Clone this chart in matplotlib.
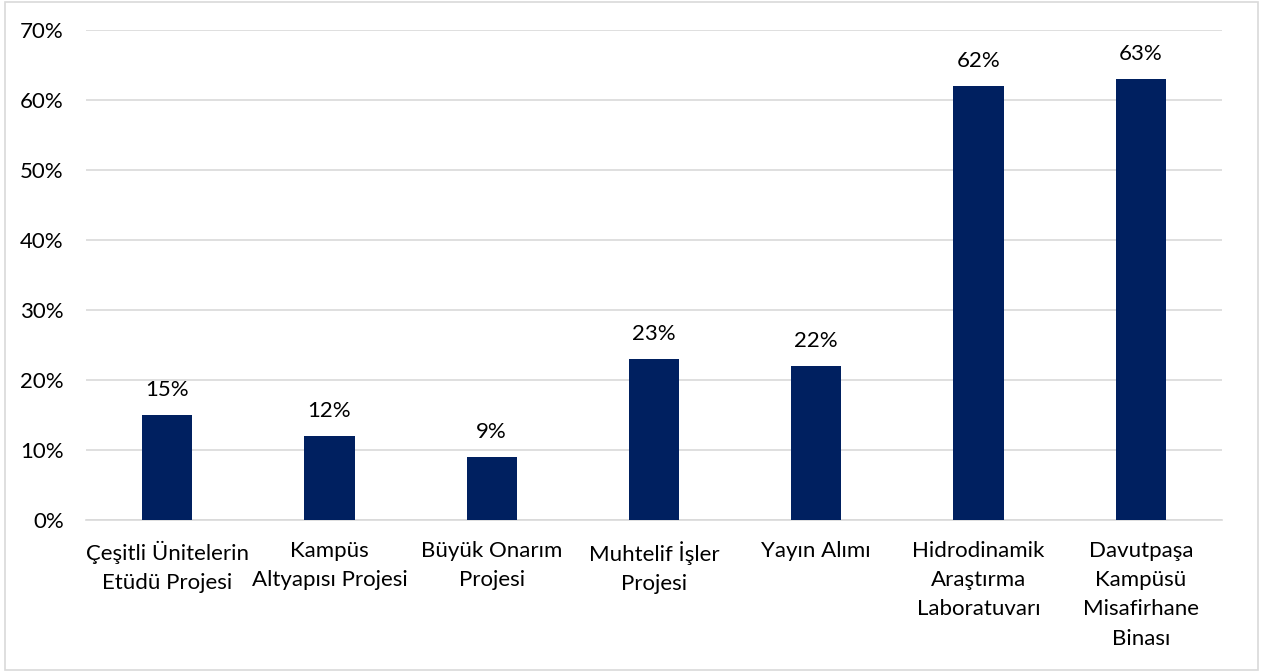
import matplotlib
matplotlib.use("Agg")
import matplotlib.pyplot as plt
from matplotlib.ticker import MultipleLocator, FuncFormatter

categories = [
    "Çeşitli Ünitelerin\nEtüdü Projesi",
    "Kampüs\nAltyapısı Projesi",
    "Büyük Onarım\nProjesi",
    "Muhtelif İşler\nProjesi",
    "Yayın Alımı",
    "Hidrodinamik\nAraştırma\nLaboratuvarı",
    "Davutpaşa\nKampüsü\nMisafirhane\nBinası",
]
values = [15, 12, 9, 23, 22, 62, 63]

plt.rcParams['font.family'] = ['Lato', 'DejaVu Sans']
FS = 16

fig = plt.figure(figsize=(12.62, 6.72), dpi=100)
fig.patches.append(plt.Rectangle((0.004, 0.003), 0.993, 0.994, transform=fig.transFigure,
                                 fill=False, edgecolor='#d9d9d9', linewidth=1.2))
ax = fig.add_axes([86/1262, 152/672, 1136/1262, 490/672])

x = range(len(categories))
ax.bar(x, values, width=0.31, color='#002060', zorder=3)
for xi, v in zip(x, values):
    ax.text(xi, v + 2.1, f"{v}%", ha='center', va='bottom', fontsize=FS, color='#000000')

ax.set_ylim(0, 70)
ax.set_xlim(-0.5, len(categories) - 0.5)
ax.yaxis.set_major_locator(MultipleLocator(10))
ax.yaxis.set_major_formatter(FuncFormatter(lambda v, p: f"{int(v)}%"))
ax.grid(axis='y', color='#d9d9d9', linewidth=1.2, zorder=0)
for s in ['top', 'right', 'left']:
    ax.spines[s].set_visible(False)
ax.spines['bottom'].set_color('#d9d9d9')
ax.spines['bottom'].set_linewidth(1.2)
ax.set_xticks(list(x))
ax.set_xticklabels(categories, fontsize=FS, linespacing=1.58, va='top')
ax.tick_params(axis='both', length=0, labelsize=FS, colors='#000000')
ax.tick_params(axis='x', pad=15)
ax.tick_params(axis='y', pad=16)
fig.savefig("out.png", dpi=100)
